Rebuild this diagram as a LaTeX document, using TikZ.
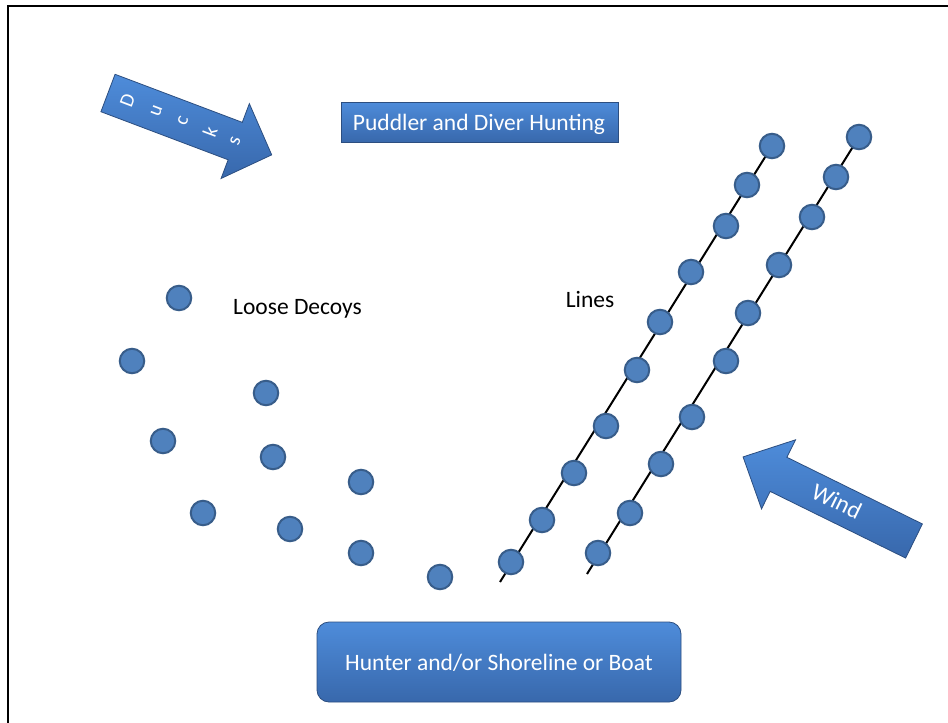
\documentclass[tikz,border=0pt]{standalone}
\usepackage{fontspec}
\setmainfont{Carlito}
\usetikzlibrary{calc}
\definecolor{decoyfill}{RGB}{79,129,189}
\definecolor{decoyline}{RGB}{56,93,138}
\definecolor{boxtop}{RGB}{78,140,218}
\definecolor{boxbot}{RGB}{56,104,172}
\definecolor{boxedge}{RGB}{44,78,128}
\tikzset{
  decoy/.style={circle, minimum size=24.5pt, inner sep=0pt, fill=decoyfill, draw=decoyline, line width=2pt},
  blueshape/.style={top color=boxtop, bottom color=boxbot, draw=boxedge, line width=0.8pt},
  wtext/.style={text=white, font=\fontsize{23.5}{26}\selectfont},
  btext/.style={text=black, font=\fontsize{23.5}{26}\selectfont},
  lineconn/.style={line width=2pt, black}
}
\begin{document}
\begin{tikzpicture}[x=1pt,y=-1pt]
\useasboundingbox (0,0) rectangle (948,723);
\fill[white] (0,0) rectangle (948,723);
% frame
\draw[line width=2pt] (8,740) -- (8,6) -- (960,6);

% title box
\node[blueshape, minimum width=277pt, minimum height=40pt, inner sep=0pt] (title) at (479.5,122) {};
\node[wtext, anchor=base] (titletext) at (479,130.5) {Puddler and Diver Hunting};

% bottom box
\node[blueshape, rounded corners=12pt, minimum width=364pt, minimum height=80pt, inner sep=0pt] (hunter) at (499,662) {};
\node[wtext, anchor=base] (huntertext) at (499,670) {Hunter and/or Shoreline or Boat};

% labels
\node[btext, anchor=base] (loose) at (297.5,314) {Loose Decoys};
\node[btext, anchor=base] (lines) at (590,307) {Lines};

% Ducks arrow
\begin{scope}[shift={(108,93)}, rotate=-20.7]
  \path[blueshape] (0,-20) -- (136,-20) -- (136,-40) -- (175,0) -- (136,40) -- (136,20) -- (0,20) -- cycle;
\end{scope}
\foreach \l/\a [count=\i] in {D/21,u/52,c/80,k/109,s/136}{
  \node[text=white, font=\fontsize{20}{21}\selectfont, rotate=69.3, inner sep=0pt] (duck\i)
    at ($(108,93)+(-20.7:\a pt)$) {\l};
}

% Wind arrow
\begin{scope}[shift={(914,541)}, rotate=153.8]
  \path[blueshape] (0,-19) -- (151,-19) -- (151,-38.5) -- (190.5,0) -- (151,38.5) -- (151,19) -- (0,19) -- cycle;
\end{scope}
\node[wtext, rotate=-26, inner sep=0pt, font=\fontsize{24}{26}\selectfont] (wind) at (837,501) {Wind};

% loose decoys
\node[decoy] (d1) at (179,298) {};
\node[decoy] (d2) at (132,361) {};
\node[decoy] (d3) at (266,393) {};
\node[decoy] (d4) at (163,441) {};
\node[decoy] (d5) at (273,457) {};
\node[decoy] (d6) at (361,482) {};
\node[decoy] (d7) at (203,513) {};
\node[decoy] (d8) at (290,529) {};
\node[decoy] (d9) at (361,553) {};
\node[decoy] (d10) at (440,577) {};

% line 1
\coordinate (la0) at (500,582);
\coordinate (la10c) at (772,146);
\draw[lineconn] (la0) -- (la10c);
\foreach \p [count=\i] in {(511,562),(542,520),(574,473),(606,426),(637,370),(660,322),(691,272),(726,226),(747,185),(772,146)}{
  \node[decoy] (la\i) at \p {};
}
% line 2
\coordinate (lb0) at (587,574);
\coordinate (lb10c) at (859,137);
\draw[lineconn] (lb0) -- (lb10c);
\foreach \p [count=\i] in {(598,553),(630,513),(661,464),(692,417),(726,361),(748,313),(779,265),(812,217),(836,177),(859,137)}{
  \node[decoy] (lb\i) at \p {};
}
\end{tikzpicture}
\end{document}
